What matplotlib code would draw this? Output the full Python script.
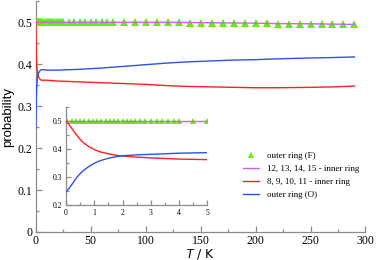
import matplotlib
matplotlib.use("Agg")
import matplotlib.pyplot as plt
from matplotlib.lines import Line2D
from matplotlib.ticker import MultipleLocator

plt.rcParams['mathtext.fontset'] = 'custom'
plt.rcParams['mathtext.it'] = 'Liberation Sans:italic'
plt.rcParams['mathtext.rm'] = 'Liberation Sans'

# ---- data ----
T = [0, 0.1, 0.2, 0.3, 0.4, 0.5, 0.6, 0.8, 1.0, 1.2, 1.5, 1.8, 2.0, 2.5, 3.0, 3.5,
     4.0, 4.5, 5.0, 7, 10, 15, 20, 30, 40, 60, 80, 100, 120, 140, 160, 180, 200,
     220, 250, 270, 290]
p_inner_8_11 = [0.500, 0.488, 0.474, 0.460, 0.447, 0.434, 0.424, 0.409, 0.398, 0.390,
                0.383, 0.377, 0.375, 0.371, 0.368, 0.366, 0.364, 0.363, 0.362, 0.362,
                0.362, 0.361, 0.360, 0.359, 0.358, 0.356, 0.354, 0.352, 0.349, 0.347,
                0.346, 0.345, 0.344, 0.344, 0.345, 0.346, 0.348]
p_outer_O = [0.248, 0.258, 0.272, 0.287, 0.301, 0.312, 0.322, 0.337, 0.349, 0.358,
             0.367, 0.373, 0.376, 0.379, 0.381, 0.383, 0.385, 0.386, 0.387, 0.387,
             0.386, 0.386, 0.386, 0.387, 0.388, 0.391, 0.395, 0.399, 0.403, 0.406,
             0.408, 0.410, 0.411, 0.413, 0.415, 0.416, 0.4175]
p_inner_12_15 = [0.5, 0.5, 0.5, 0.5, 0.5, 0.5, 0.5, 0.5, 0.5, 0.5, 0.5, 0.5, 0.5, 0.5,
                 0.5, 0.5, 0.5, 0.5, 0.5, 0.5, 0.5, 0.5, 0.5, 0.5, 0.5, 0.5, 0.5, 0.5,
                 0.5, 0.4995, 0.499, 0.4985, 0.498, 0.497, 0.4965, 0.4958, 0.495]

T_F = [0.05, 0.2, 0.35, 0.5, 0.65, 0.8, 0.95, 1.1, 1.25, 1.4, 1.55, 1.7, 1.85, 2.0,
       2.15, 2.3, 2.45, 2.6, 2.8, 3.0, 3.2, 3.4, 3.6, 3.8, 4.0, 4.5, 5.0,
       6, 7, 8, 9, 10, 11, 12, 13, 14, 15, 16, 17, 18, 19, 20, 21, 22, 23, 24, 25,
       30, 35, 40, 45, 50, 55, 60, 65, 70,
       80, 90, 100, 110, 120, 130, 140, 150, 160, 170, 180, 190, 200, 210, 220,
       230, 240, 250, 260, 270, 280, 290]
p_outer_F = [
    0.5, 0.5, 0.5, 0.5, 0.5, 0.5, 0.5, 0.5, 0.5, 0.5, 0.5, 0.5, 0.5, 0.5,
    0.5, 0.5, 0.5, 0.5, 0.5, 0.5, 0.5, 0.5, 0.5, 0.5, 0.5, 0.5, 0.5,
    0.5, 0.5, 0.5, 0.5, 0.5, 0.5, 0.5, 0.5, 0.5, 0.5, 0.5, 0.5, 0.5, 0.5, 0.5, 0.5, 0.5, 0.5, 0.5, 0.5,
    0.5, 0.5, 0.5, 0.5, 0.5, 0.5, 0.5, 0.5, 0.5,
    0.5, 0.5, 0.5, 0.5, 0.5, 0.5, 0.4995, 0.4993, 0.499, 0.4988, 0.4985, 0.4983, 0.498, 0.4975, 0.497,
    0.4968, 0.4965, 0.4963, 0.496, 0.4958, 0.4955, 0.495]

labels = ["outer ring (F)", "12, 13, 14, 15 - inner ring",
          "8, 9, 10, 11 - inner ring", "outer ring (O)"]

C_GREEN = '#66ee00'
C_MAG = '#c864f0'
C_RED = '#ff2020'
C_BLUE = '#3050f0'
C_SPINE = '#8c8c8c'
SERIF = 'Liberation Serif'

fig = plt.figure(figsize=(3.76, 2.6), dpi=100)
ax = fig.add_axes([0.095, 0.1077, 0.877, 0.887])

def draw(a, ms, lw):
    a.plot(T, p_inner_12_15, color=C_MAG, lw=lw, zorder=3)
    a.plot(T, p_inner_8_11, color=C_RED, lw=lw, zorder=3)
    a.plot(T, p_outer_O, color=C_BLUE, lw=lw, zorder=3)
    a.plot(T_F, p_outer_F, ls='none', marker='^', ms=ms, color=C_GREEN,
           markeredgewidth=0, zorder=2)

def style(a, fs, major, minor, pad):
    for s in ['top', 'right']:
        a.spines[s].set_visible(False)
    for s in ['left', 'bottom']:
        a.spines[s].set_color(C_SPINE)
        a.spines[s].set_linewidth(0.9)
    a.tick_params(which='both', direction='in', color=C_SPINE, width=0.9,
                  labelsize=fs, pad=pad)
    a.tick_params(which='major', length=major)
    a.tick_params(which='minor', length=minor)
    for lab in a.get_xticklabels() + a.get_yticklabels():
        lab.set_fontfamily(SERIF)
    a.set_facecolor('none')

draw(ax, 5.2, 1.0)
ax.set_xlim(0, 300)
ax.set_ylim(0, 0.55)
ax.set_xticks([0, 50, 100, 150, 200, 250, 300])
ax.set_yticks([0, 0.1, 0.2, 0.3, 0.4, 0.5])
ax.set_yticklabels(['0', '0.1', '0.2', '0.3', '0.4', '0.5'])
ax.xaxis.set_minor_locator(MultipleLocator(25))
ax.yaxis.set_minor_locator(MultipleLocator(0.05))
style(ax, 8.5, 4.5, 2.5, 2.5)
ax.set_ylabel('probability', family='Liberation Sans', fontsize=9.5)
ax.yaxis.set_label_coords(-0.066, 0.5)
ax.set_xlabel(r'$T$ / K', fontsize=9)
ax.xaxis.set_label_coords(0.5, -0.064)

ins = fig.add_axes([0.1755, 0.2115, 0.3763, 0.377])
draw(ins, 3.8, 1.0)
ins.set_xlim(0, 5)
ins.set_ylim(0.2, 0.55)
ins.set_xticks([0, 1, 2, 3, 4, 5])
ins.set_yticks([0.2, 0.3, 0.4, 0.5])
ins.xaxis.set_minor_locator(MultipleLocator(0.5))
ins.yaxis.set_minor_locator(MultipleLocator(0.05))
style(ins, 5.5, 3.5, 2, 3)

handles = [Line2D([], [], ls='none', marker='^', ms=5, color=C_GREEN, markeredgewidth=0),
           Line2D([], [], color=C_MAG, lw=1.0),
           Line2D([], [], color=C_RED, lw=1.0),
           Line2D([], [], color=C_BLUE, lw=1.0)]
fig.legend(handles, labels, loc='upper left', bbox_to_anchor=(0.645, 0.415),
           frameon=False, prop={'family': SERIF, 'size': 6.5},
           handlelength=1.8, handletextpad=0.9, labelspacing=0.5, borderpad=0,
           borderaxespad=0)

fig.savefig('out.png', dpi=100)
